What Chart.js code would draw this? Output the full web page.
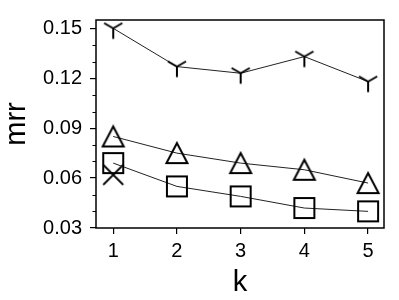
<!DOCTYPE html>
<html>
<head>
<meta charset="utf-8">
<script src="https://cdn.jsdelivr.net/npm/chart.js@4"></script>
<style>
  html, body { margin: 0; padding: 0; background: #fff; }
</style>
</head>
<body>
<canvas id="c" width="399" height="300"></canvas>
<script>
// data
const K = [1, 2, 3, 4, 5];
const mrrTriDown = [0.150, 0.127, 0.123, 0.133, 0.118];
const mrrTriangle = [0.085, 0.075, 0.069, 0.065, 0.057];
const mrrSquare = [0.069, 0.055, 0.049, 0.042, 0.040];
const mrrCross = [0.062, null, null, null, null];
const Y_MAJOR = [0.03, 0.06, 0.09, 0.12, 0.15];
const Y_MINOR = [0.04, 0.05, 0.07, 0.08, 0.10, 0.11, 0.13, 0.14];

const FONT = "'Liberation Sans', Arial, sans-serif";

function makeMarker(lw, draw) {
  const c = document.createElement('canvas');
  c.width = 28; c.height = 28;
  const g = c.getContext('2d');
  g.strokeStyle = '#000';
  g.lineWidth = lw;
  g.translate(14, 14);
  g.beginPath();
  draw(g);
  g.stroke();
  return c;
}

const markers = {
  triDown: makeMarker(2, (g) => {
    g.moveTo(0, 0); g.lineTo(0, 10.5);
    g.moveTo(0, 0); g.lineTo(-9.1, -5.25);
    g.moveTo(0, 0); g.lineTo(9.1, -5.25);
  }),
  triangle: makeMarker(2, (g) => {
    g.moveTo(0, -10); g.lineTo(10.5, 10); g.lineTo(-10.5, 10); g.closePath();
  }),
  square: makeMarker(2, (g) => {
    g.rect(-10, -10, 20, 20);
  }),
  cross: makeMarker(1.8, (g) => {
    g.moveTo(-10, -10); g.lineTo(10, 10);
    g.moveTo(10, -10); g.lineTo(-10, 10);
  }),
};

function pts(arr) {
  return K.map((k, i) => ({ x: k, y: arr[i] }));
}

function series(arr, marker, showLine) {
  return {
    data: pts(arr),
    borderColor: '#222',
    borderWidth: 1,
    pointStyle: marker,
    pointRadius: 10,
    showLine,
    clip: false,
    spanGaps: false,
  };
}

const framePlugin = {
  id: 'frame',
  afterDraw(chart) {
    const { ctx, chartArea: a } = chart;
    const y = chart.scales.y;
    ctx.save();
    ctx.strokeStyle = '#000';
    ctx.lineWidth = 1.2;
    ctx.beginPath();
    Y_MINOR.forEach((v) => {
      const py = Math.round(y.getPixelForValue(v)) + 0.5;
      ctx.moveTo(a.left - 3.5, py);
      ctx.lineTo(a.left, py);
    });
    ctx.stroke();
    ctx.lineWidth = 1.5;
    ctx.strokeRect(a.left, a.top, a.right - a.left, a.bottom - a.top);
    ctx.restore();
  },
};

new Chart(document.getElementById('c'), {
  type: 'line',
  data: {
    datasets: [
      series(mrrTriDown, markers.triDown, true),
      series(mrrTriangle, markers.triangle, true),
      series(mrrSquare, markers.square, true),
      series(mrrCross, markers.cross, false),
    ],
  },
  options: {
    responsive: false,
    animation: false,
    devicePixelRatio: 1,
    layout: { padding: { top: 13, right: 15, left: 0, bottom: 0 } },
    plugins: { legend: { display: false }, tooltip: { enabled: false } },
    scales: {
      x: {
        type: 'linear',
        min: 0.73,
        max: 5.25,
        afterBuildTicks: (s) => { s.ticks = K.map((v) => ({ value: v })); },
        afterFit: (s) => { s.height = 72; },
        ticks: { color: '#000', font: { family: FONT, size: 20 }, padding: 5, maxRotation: 0 },
        grid: { drawOnChartArea: false, tickLength: 6, color: '#000', lineWidth: 1.2 },
        border: { display: false },
        title: { display: true, text: 'k', color: '#000', font: { family: FONT, size: 29 }, padding: { top: 0, bottom: 0 } },
      },
      y: {
        min: 0.03,
        max: 0.155,
        afterBuildTicks: (s) => { s.ticks = Y_MAJOR.map((v) => ({ value: v })); },
        afterFit: (s) => { s.width = 96; },
        ticks: { color: '#000', font: { family: FONT, size: 20 }, padding: 8, callback: (v) => v.toFixed(2) },
        grid: { drawOnChartArea: false, tickLength: 6, color: '#000', lineWidth: 1.2 },
        border: { display: false },
        title: { display: true, text: 'mrr', color: '#000', font: { family: FONT, size: 29 }, padding: { top: 0, bottom: 0 } },
      },
    },
  },
  plugins: [framePlugin],
});
</script>
</body>
</html>
